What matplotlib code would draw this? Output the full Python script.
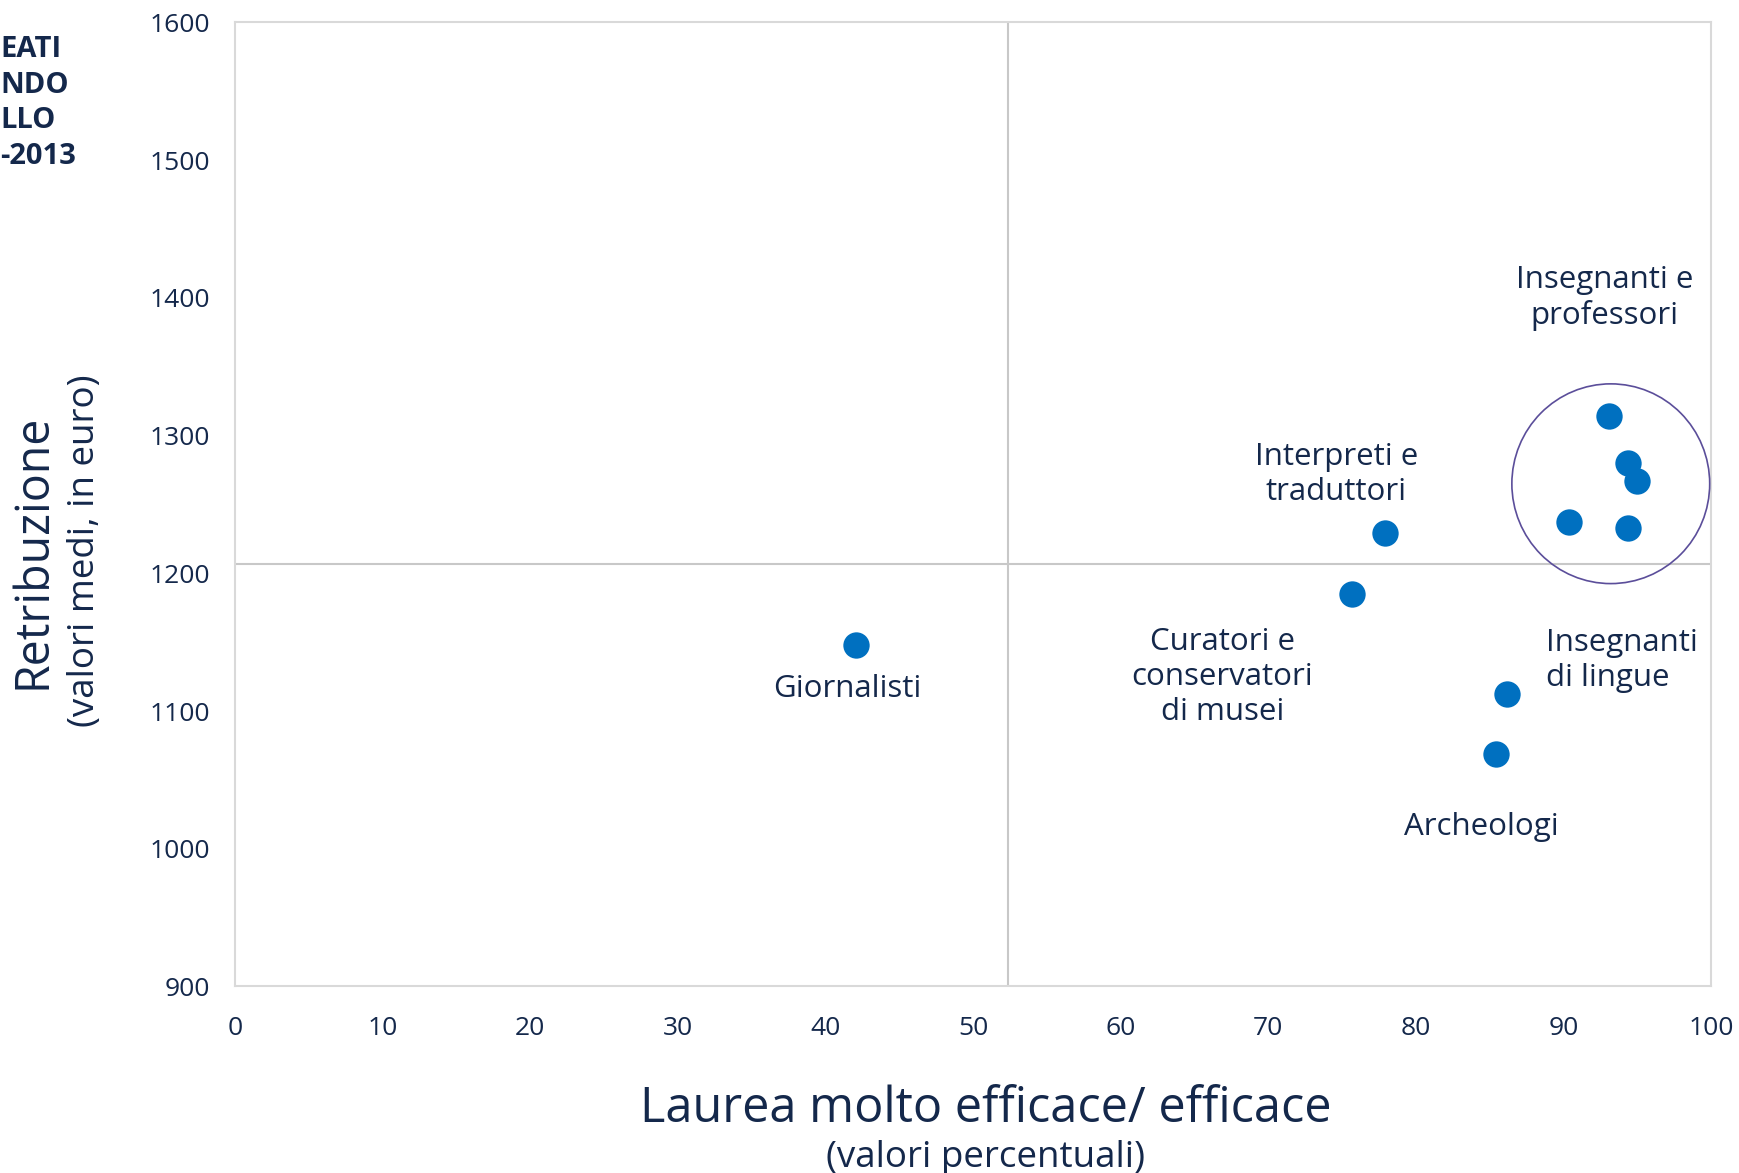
import matplotlib
matplotlib.use("Agg")
import matplotlib.pyplot as plt
from matplotlib.patches import Ellipse

plt.rcParams['font.family'] = ['Open Sans', 'DejaVu Sans']

# Data
x_vals = [42.1, 75.7, 77.9, 85.4, 86.2, 93.1, 94.4, 95.0, 90.4, 94.4]
y_vals = [1148, 1185, 1229, 1069, 1112, 1314, 1280, 1267, 1237, 1233]

labels = ["Giornalisti", "Curatori e\nconservatori\ndi musei", "Interpreti e\ntraduttori",
          "Archeologi", "Insegnanti\ndi lingue", "Insegnanti e\nprofessori"]
label_x = [41.5, 66.9, 74.6, 84.4, 88.8, 92.8]
label_y = [1116, 1125, 1272, 1016, 1137, 1400]
label_ha = ["center", "center", "center", "center", "left", "center"]

x_ticks = [0, 10, 20, 30, 40, 50, 60, 70, 80, 90, 100]
y_ticks = [900, 1000, 1100, 1200, 1300, 1400, 1500, 1600]
ref_x = 52.4
ref_y = 1207

TXT = "#14284b"

fig = plt.figure(figsize=(17.39, 11.73), dpi=100)
ax = fig.add_axes([0.135, 0.159, 0.849, 0.822])

ax.axvline(ref_x, color="#c8c8c8", lw=1.5, zorder=1)
ax.axhline(ref_y, color="#c8c8c8", lw=1.5, zorder=1)

ax.scatter(x_vals, y_vals, s=360, color="#0070c0", zorder=3, linewidths=0)

ax.add_patch(Ellipse((93.2, 1265), 13.4, 145, fill=False, edgecolor="#5b4e9a", lw=1.2, zorder=4))

for t, lx, ly, ha in zip(labels, label_x, label_y, label_ha):
    ax.text(lx, ly, t, ha=ha, va="center", fontsize=22.5, color=TXT, linespacing=1.22)

ax.set_xlim(0, 100)
ax.set_ylim(900, 1600)
ax.set_xticks(x_ticks)
ax.set_yticks(y_ticks)
ax.tick_params(length=0, labelsize=19, labelcolor=TXT)
ax.tick_params(axis='y', pad=18)
ax.tick_params(axis='x', pad=21)
for s in ax.spines.values():
    s.set_color("#d9d9d9")
    s.set_linewidth(1.5)

fig.text(986/1739, 1 - 1109/1173, "Laurea molto efficace/ efficace", ha="center", va="center",
         fontsize=35, color=TXT)
fig.text(986/1739, 1 - 1158/1173, "(valori percentuali)", ha="center", va="center",
         fontsize=26.5, color=TXT)
fig.text(33/1739, 1 - 551/1173, "Retribuzione", ha="center", va="center", rotation=90,
         fontsize=33.5, color=TXT)
fig.text(85/1739, 1 - 551/1173, "(valori medi, in euro)", ha="center", va="center", rotation=90,
         fontsize=26.5, color=TXT)

fig.text(0.0, 1 - 35/1173, "EATI\nNDO\nLLO\n-2013", ha="left", va="top", fontsize=21,
         fontweight="bold", color=TXT, linespacing=1.3)

fig.savefig("out.png", dpi=100)
